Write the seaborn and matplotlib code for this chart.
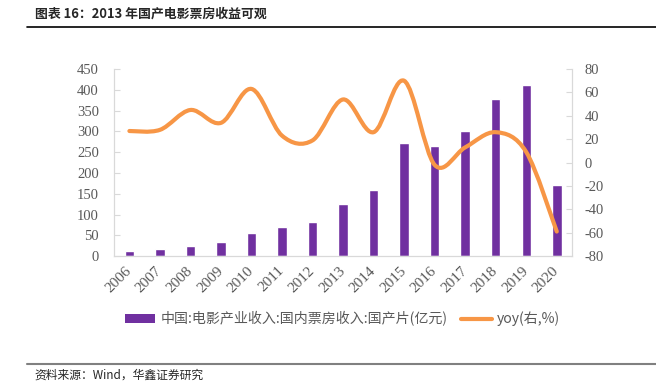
import matplotlib
matplotlib.use("Agg")
import matplotlib.pyplot as plt
import seaborn as sns
import numpy as np
import pandas as pd
from matplotlib.path import Path
from matplotlib.patches import PathPatch, Patch
from matplotlib.lines import Line2D

years = ["2006", "2007", "2008", "2009", "2010", "2011", "2012", "2013",
         "2014", "2015", "2016", "2017", "2018", "2019", "2020"]
box_office = [12, 16, 24, 33, 56, 69, 81, 125, 160, 272, 266, 301, 379, 412, 171]
yoy = [27, 28, 45, 34, 63, 23, 19, 54, 26, 70, -2, 13, 26, 9, -59]

bar_label = "中国:电影产业收入:国内票房收入:国产片(亿元)"
line_label = "yoy(右,%)"
title = "图表 16：2013 年国产电影票房收益可观"
source = "资料来源：Wind，华鑫证券研究"

PURPLE = "#7030A0"
ORANGE = "#F79646"
GRID = "#D9D9D9"
TICK_TXT = "#595959"

sns.set_style("white")
plt.rcParams["font.family"] = ["Noto Sans CJK SC", "DejaVu Sans"]
plt.rcParams["axes.unicode_minus"] = False

df = pd.DataFrame({"year": years, "value": box_office, "yoy": yoy})

fig = plt.figure(figsize=(6.56, 3.88), dpi=100)
ax = fig.add_axes([0.174, 0.340, 0.698, 0.482])

sns.barplot(data=df, x="year", y="value", color=PURPLE, width=0.31,
            saturation=1, ax=ax)
ax.set_xlim(-0.5, len(years) - 0.5)
ax.set_ylim(0, 450)
ax.set_yticks(np.arange(0, 451, 50))
ax.set_xlabel("")
ax.set_ylabel("")

ax2 = ax.twinx()
ax2.set_ylim(-80, 80)
ax2.set_yticks(np.arange(-80, 81, 20))

# smoothed line (Excel-style Bezier through the data points)
xs = np.arange(len(yoy), dtype=float)
ys = np.asarray(yoy, dtype=float)
px = np.concatenate([[xs[0]], xs, [xs[-1]]])
py = np.concatenate([[ys[0]], ys, [ys[-1]]])
verts = [(xs[0], ys[0])]
codes = [Path.MOVETO]
for i in range(len(xs) - 1):
    j = i + 1
    c1 = (px[j] + (px[j + 1] - px[j - 1]) / 6, py[j] + (py[j + 1] - py[j - 1]) / 6)
    c2 = (px[j + 1] - (px[j + 2] - px[j]) / 6, py[j + 1] - (py[j + 2] - py[j]) / 6)
    verts += [c1, c2, (xs[j], ys[j])]
    codes += [Path.CURVE4] * 3
ax2.add_patch(PathPatch(Path(verts, codes), fill=False, edgecolor=ORANGE,
                        lw=3, capstyle="round", joinstyle="round"))

for a in (ax, ax2):
    for s in a.spines.values():
        s.set_color(GRID)
    a.spines["top"].set_visible(False)

serif = ["Liberation Serif", "DejaVu Serif"]
ax.tick_params(axis="y", direction="in", length=4, color=GRID, pad=11,
               labelsize=10.5, labelcolor=TICK_TXT)
ax.tick_params(axis="x", length=0, pad=9, labelsize=11, labelcolor=TICK_TXT)
ax2.tick_params(axis="y", direction="in", length=4, color=GRID, pad=9,
                labelsize=10.5, labelcolor=TICK_TXT)
for lab in ax.get_yticklabels() + ax2.get_yticklabels():
    lab.set_fontfamily(serif)
for lab in ax.get_xticklabels():
    lab.set_fontfamily(serif)
    lab.set_rotation(45)
    lab.set_ha("right")
    lab.set_va("center")
    lab.set_rotation_mode("anchor")

handles = [Patch(facecolor=PURPLE, edgecolor="none"),
           Line2D([0], [0], color=ORANGE, lw=3)]
fig.legend(handles, [bar_label, line_label], loc="center",
           bbox_to_anchor=(0.522, 0.178), ncol=2, frameon=False,
           fontsize=10.1, labelcolor=TICK_TXT, handlelength=2.2,
           handleheight=0.6, columnspacing=1.0, handletextpad=0.35)

fig.text(0.053, 0.965, title, fontsize=9.3, fontweight="bold",
         va="center", ha="left")
fig.add_artist(Line2D([0.041, 1.0], [0.930, 0.930], color="black", lw=1.2))
fig.add_artist(Line2D([0.041, 1.0], [0.062, 0.062], color="#808080", lw=1.5))
fig.text(0.053, 0.033, source, fontsize=8.5, va="center", ha="left")

fig.savefig("out.png", dpi=100)
